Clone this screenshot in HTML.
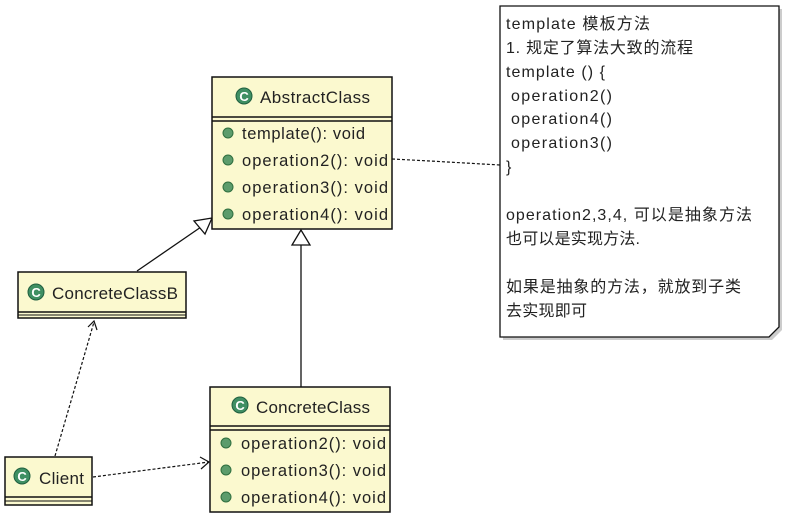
<!DOCTYPE html>
<html><head><meta charset="utf-8"><style>
html,body{margin:0;padding:0;background:#fff;width:790px;height:522px;overflow:hidden}
text{font-family:"Liberation Sans","Noto Sans CJK SC",sans-serif;fill:#222}
</style></head><body>
<svg width="790" height="522" xmlns="http://www.w3.org/2000/svg">
<defs>
<g id="g"><circle r="8" fill="#3f8f63" stroke="#1f5f3f" stroke-width="1"/><text x="0" y="5" text-anchor="middle" font-size="13" font-weight="bold" style="fill:#fff">C</text></g>
<g id="d"><circle r="5" fill="#5c9c6c" stroke="#2f6f3f" stroke-width="1"/></g>
</defs>
<!-- connectors -->
<line x1="137" y1="271" x2="201" y2="227" stroke="#111" stroke-width="1.3"/>
<polygon points="212,218 194,221 205,234" fill="#fff" stroke="#111" stroke-width="1.3"/>
<line x1="301" y1="245" x2="301" y2="387" stroke="#111" stroke-width="1.3"/>
<polygon points="301,230 292,245 310,245" fill="#fff" stroke="#111" stroke-width="1.3"/>
<path d="M392,159 L430,161 L500,165" fill="none" stroke="#111" stroke-width="1.2" stroke-dasharray="3,2"/>
<path d="M55,456 L94,322" fill="none" stroke="#111" stroke-width="1.2" stroke-dasharray="3,2"/>
<path d="M88,327 L94,321 L97,330" fill="none" stroke="#111" stroke-width="1.2"/>
<path d="M93,477 L209,462" fill="none" stroke="#111" stroke-width="1.2" stroke-dasharray="3,2"/>
<path d="M200,457 L209,462 L201,469" fill="none" stroke="#111" stroke-width="1.2"/>
<!-- AbstractClass -->
<rect x="212" y="77" width="180" height="152" fill="#fbf9cf" stroke="#111" stroke-width="1.5"/>
<line x1="212" y1="117" x2="392" y2="117" stroke="#111" stroke-width="1.5"/>
<line x1="212" y1="121" x2="392" y2="121" stroke="#111" stroke-width="1.5"/>
<use href="#g" x="244" y="96"/>
<text x="260" y="103" font-size="17" textLength="110">AbstractClass</text>
<use href="#d" x="228" y="133"/><text x="242" y="139" font-size="16.5" textLength="123">template(): void</text>
<use href="#d" x="228" y="160"/><text x="242" y="166" font-size="16.5" textLength="146">operation2(): void</text>
<use href="#d" x="228" y="187"/><text x="242" y="193" font-size="16.5" textLength="146">operation3(): void</text>
<use href="#d" x="228" y="214"/><text x="242" y="220" font-size="16.5" textLength="146">operation4(): void</text>
<!-- ConcreteClassB -->
<rect x="18" y="272" width="168" height="46" fill="#fbf9cf" stroke="#111" stroke-width="1.5"/>
<line x1="18" y1="312" x2="186" y2="312" stroke="#111" stroke-width="1.5"/>
<line x1="18" y1="315" x2="186" y2="315" stroke="#111" stroke-width="1"/>
<use href="#g" x="36" y="292"/>
<text x="52" y="299" font-size="17" textLength="126">ConcreteClassB</text>
<!-- Client -->
<rect x="5" y="457" width="87" height="48" fill="#fbf9cf" stroke="#111" stroke-width="1.5"/>
<line x1="5" y1="497" x2="92" y2="497" stroke="#111" stroke-width="1.5"/>
<line x1="5" y1="501" x2="92" y2="501" stroke="#111" stroke-width="1"/>
<use href="#g" x="22" y="476"/>
<text x="39" y="484" font-size="17" textLength="45">Client</text>
<!-- ConcreteClass -->
<rect x="210" y="387" width="180" height="125" fill="#fbf9cf" stroke="#111" stroke-width="1.5"/>
<line x1="210" y1="426" x2="390" y2="426" stroke="#111" stroke-width="1.5"/>
<line x1="210" y1="430" x2="390" y2="430" stroke="#111" stroke-width="1.5"/>
<use href="#g" x="240" y="405"/>
<text x="256" y="413" font-size="17" textLength="114">ConcreteClass</text>
<use href="#d" x="226" y="443"/><text x="241" y="449" font-size="16.5" textLength="145">operation2(): void</text>
<use href="#d" x="226" y="470"/><text x="241" y="476" font-size="16.5" textLength="145">operation3(): void</text>
<use href="#d" x="226" y="497"/><text x="241" y="503" font-size="16.5" textLength="145">operation4(): void</text>
<!-- Note -->
<path d="M503,9 L782,9 L782,330 L772,340 L503,340 Z" fill="#999" opacity="0.5"/>
<path d="M500,6 L779,6 L779,327 L769,337 L500,337 Z" fill="#fff" stroke="#111" stroke-width="1.3"/>
<g font-size="16">
<text x="506" y="29" textLength="144">template 模板方法</text>
<text x="506" y="53" textLength="187">1. 规定了算法大致的流程</text>
<text x="506" y="77" textLength="99">template () {</text>
<text x="511" y="101" textLength="101">operation2()</text>
<text x="511" y="124" textLength="101">operation4()</text>
<text x="511" y="148" textLength="101">operation3()</text>
<text x="506" y="172">}</text>
<text x="506" y="220" textLength="246">operation2,3,4, 可以是抽象方法</text>
<text x="506" y="244" textLength="134">也可以是实现方法.</text>
<text x="506" y="292" textLength="235">如果是抽象的方法，就放到子类</text>
<text x="506" y="316" textLength="81">去实现即可</text>
</g>
</svg>
</body></html>
